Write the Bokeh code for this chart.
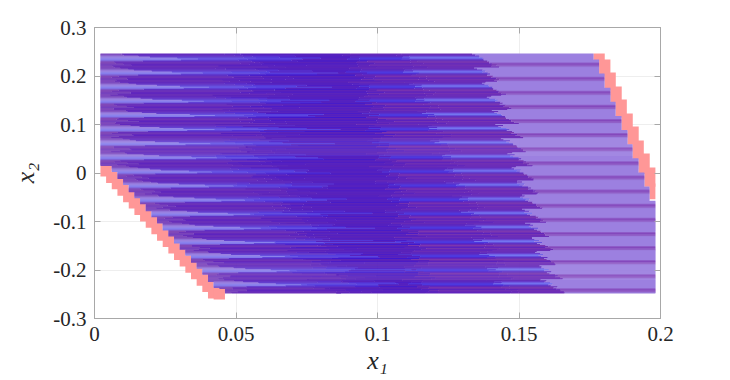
from bokeh.plotting import figure
from bokeh.embed import file_html
from bokeh.resources import INLINE
from bokeh.models import LinearAxis, FixedTicker, Range1d

# ---- values (data units) ----
x_ticks = [0, 0.05, 0.1, 0.15, 0.2]
x_tick_labels = ["0", "0.05", "0.1", "0.15", "0.2"]
y_ticks = [-0.3, -0.2, -0.1, 0, 0.1, 0.2, 0.3]
y_tick_labels = ["-0.3", "-0.2", "-0.1", "0", "0.1", "0.2", "0.3"]

band_top = [0.2465, 0.2174, 0.1883, 0.1592, 0.1301, 0.1010, 0.0719, 0.0428, 0.0137,
            -0.0154, -0.0445, -0.0736, -0.1027, -0.1318, -0.1609, -0.1900, -0.2191]
band_h = 0.0291
grid_left = 0.0021
# right boundary of the blue set, band by band
edge_right = [0.1763, 0.1783, 0.1802, 0.1823, 0.1841, 0.1862, 0.1883, 0.1901, 0.1922, 0.1943,
              0.1961, 0.1982, 0.1982, 0.1982, 0.1982, 0.1982, 0.1982, 0.1982]
# fronts, band by band
front_tip = [0.0375, 0.0375, 0.0399, 0.0399, 0.0428, 0.0420, 0.0399, 0.0438, 0.0420,
             0.0481, 0.0527, 0.0551, 0.0594, 0.0629, 0.0664, 0.0700, 0.0728]
front_a = [0.0933, 0.0947, 0.0961, 0.0975, 0.0989, 0.1004, 0.1018, 0.1032, 0.1046,
           0.1060, 0.1074, 0.1088, 0.1102, 0.1117, 0.1131, 0.1145, 0.1159]
front_b = [0.1117, 0.1138, 0.1155, 0.1173, 0.1194, 0.1212, 0.1233, 0.1254, 0.1276,
           0.1297, 0.1322, 0.1343, 0.1364, 0.1385, 0.1406, 0.1428, 0.1449]
front_c = [0.1382, 0.1392, 0.1410, 0.1431, 0.1449, 0.1466, 0.1484, 0.1502, 0.1516,
           0.1530, 0.1541, 0.1551, 0.1565, 0.1580, 0.1594, 0.1608, 0.1622]
# red cells, lower left
red_l_x = [0.0021, 0.0041, 0.0061, 0.0081, 0.0101, 0.0121, 0.0141, 0.0161, 0.0181, 0.0201, 0.0221,
           0.0241, 0.0261, 0.0281, 0.0301, 0.0321, 0.0341, 0.0361, 0.0381, 0.0401, 0.0421]
red_l_y = [0.0155, 0.0023, -0.0109, -0.0242, -0.0374, -0.0507, -0.0639, -0.0772, -0.0904, -0.1036, -0.1169,
           -0.1301, -0.1434, -0.1566, -0.1699, -0.1831, -0.1963, -0.2096, -0.2228, -0.2361, -0.2382]
# red cells, upper right
red_r_x = [0.1763, 0.1783, 0.1802, 0.1823, 0.1841, 0.1862, 0.1883, 0.1901, 0.1922, 0.1943, 0.1961]
red_r_top = [0.2465, 0.2340, 0.2072, 0.1784, 0.1515, 0.1227, 0.0959, 0.0670, 0.0402, 0.0113, -0.0217]
red_r_bot = [0.2300, 0.1990, 0.1701, 0.1433, 0.1144, 0.0876, 0.0588, 0.0280, -0.0020, -0.0285, -0.0540]
red_w = 0.0040

# fine structure of one band, 14 one-pixel lines from its top
tone_left = ["#7A48BE", "#8455C2", "#9070D6", "#9A80E0", "#9484E6", "#8A82EC", "#8478EA",
             "#7E5CD0", "#8248B8", "#8048B8", "#7A42BA", "#7440BE", "#7C48BC", "#8048BC"]
reach_left = [0.2, 0.25, 0.35, 0.5, 0.75, 1.0, 0.8, 0.4, 0.15, 0.12, 0.25, 0.3, 0.15, 0.12]
tone_midleft = ["#6028BC", "#6630C0", "#6438C8", "#6440D0", "#6650DC", "#6858E6", "#6044D8",
                "#5C30C8", "#6830BC", "#6E34B8", "#6428BC", "#5C24BE", "#682EBA", "#6A30B8"]
tone_blend = ["#5A26BE", "#5A2AC6", "#5A30D0", "#5436D8", "#5640DC", "#5A44E0", "#5232D6",
              "#4A22CE", "#6028BC", "#6228BA", "#5422C4", "#5822C0", "#5C26BC", "#5E28BA"]
mid_extra = [0.004, 0.006, 0.010, 0.014, 0.020, 0.024, 0.018, 0.012, 0.004, 0.002, 0.008, 0.010, 0.005, 0.003]
tone_core = ["#5822BA", "#5220C0", "#5822BC", "#4A1CC8", "#5822BC", "#5220C2", "#5A24BA",
             "#4018CE", "#5C24B8", "#5620BC", "#4C1CC6", "#5C26BA", "#5420C0", "#5A22BA"]
tone_front = ["#6A2CB6", "#5E26BC", "#5C28C0", "#5630CC", "#5038DC", "#4C38E0", "#5028CC",
              "#6626BA", "#7C36AE", "#6A2AB6", "#5A22BE", "#7434B2", "#6426BA", "#6026BC"]
tone_streak = ["#6A2EB8", "#662EBC", "#6A40D0", "#7064E6", "#7474F0", "#6450DC", "#6030C4",
               "#6C34B8", "#7C38B0", "#7030B6", "#6226BC", "#7634B2", "#6C2CB8", "#6C2EB8"]
tone_right = ["#9C80E0", "#9C80E0", "#9C80E0", "#9C80E0", "#9C80E0", "#9C80E0", "#9C80E0",
              "#9C80E0", "#9C80E0", "#8E5CC8", "#8448BC", "#8E5AC4", "#9060C8", "#9A7CDC"]
slant = [-0.0042, -0.0035, -0.0029, -0.0022, -0.0016, -0.0009, -0.0003,
         0.0004, 0.0010, 0.0017, 0.0023, 0.0030, 0.0036, 0.0043]
wiggle = [0.0012, -0.0021, 0.0034, -0.0008, 0.0019, -0.0031, 0.0005, 0.0027, -0.0016, 0.0040,
          -0.0026, 0.0009, -0.0037, 0.0022, -0.0004, 0.0031, -0.0019, 0.0014, -0.0043, 0.0025,
          0.0002, -0.0029, 0.0036, -0.0011, 0.0017, -0.0034, 0.0008, 0.0029, -0.0023]


def left_limit(y):
    x = grid_left
    for cx, cy in zip(red_l_x, red_l_y):
        if y <= cy:
            x = cx + red_w
    return x if y < 0.0155 else grid_left


L, R, T, B, C = [], [], [], [], []


def add(x0, x1, top, bot, col):
    if x1 > x0:
        L.append(x0); R.append(x1); T.append(top); B.append(bot); C.append(col)


n = 0
for i, top in enumerate(band_top):
    step = band_h / 14
    for s in range(14):
        t = top - s * step
        # each line runs under the next one, so no white seam shows between them
        b = t - step * (1.6 if (i < 16 or s < 13) else 1.0)
        right = edge_right[i] if s < 6 else edge_right[i + 1]
        x0 = left_limit(t - step / 2)
        j = wiggle[n % len(wiggle)]
        j2 = wiggle[(n * 3 + 5) % len(wiggle)]
        n += 1
        tip = x0 + max(front_tip[i] - x0, 0.012) * reach_left[s] + j * 0.3
        mid = max(0.052 + x0 * 0.75 + j2 * 2.5, tip)
        mid2 = mid + mid_extra[s] + j * 1.5
        a = front_a[i] + slant[s] + j
        fb = front_b[i] + slant[s] + j * 0.7
        c = front_c[i] + slant[s] * 0.9 + j2 * 0.3
        pts = [x0, tip, mid, mid2, a, fb, c, right]
        cols = [tone_left[s], tone_midleft[s], tone_blend[s], tone_core[s], tone_front[s], tone_streak[s], tone_right[s]]
        for k in range(7):
            x_a = min(max(pts[k], x0), right)
            x_b = min(max(pts[k + 1], x0), right)
            add(x_a, x_b, t, b, cols[k])

p = figure(width=722, height=376, output_backend="svg", toolbar_location=None,
           x_range=Range1d(0, 0.2), y_range=Range1d(-0.3, 0.3),
           frame_width=566, frame_height=291, min_border_left=94, min_border_right=62,
           min_border_top=27, min_border_bottom=58, x_axis_location="below")
p.background_fill_color = "white"
p.outline_line_color = "#A8A8A8"

# red cells underneath
lw = [x + red_w for x in red_l_x]
p.quad(left=red_l_x, right=lw, top=red_l_y, bottom=[y - 0.0227 for y in red_l_y],
       fill_color="#FF9797", line_color=None)
p.quad(left=red_r_x, right=[min(x + red_w, 0.1982) for x in red_r_x], top=red_r_top, bottom=red_r_bot,
       fill_color="#FF9797", line_color=None)
p.quad(left=L, right=R, top=T, bottom=B, fill_color=C, line_color=None)

for ax, ticks, labels in ((p.xaxis[0], x_ticks, x_tick_labels), (p.yaxis[0], y_ticks, y_tick_labels)):
    ax.ticker = FixedTicker(ticks=ticks)
    ax.major_label_overrides = dict(zip(ticks, labels))
    ax.major_label_text_font = "Liberation Serif"
    ax.major_label_text_font_size = "21px"
    ax.major_label_text_color = "#262626"
    ax.axis_line_color = "#A8A8A8"
    ax.major_tick_line_color = "#A8A8A8"
    ax.major_tick_in = 6
    ax.major_tick_out = 0
    ax.minor_tick_line_color = None
    ax.major_label_standoff = 8
    ax.axis_label_text_font = "Liberation Serif"
    ax.axis_label_text_font_style = "italic"
    ax.axis_label_text_font_size = "26px"
    ax.axis_label_text_color = "#262626"

p.xaxis[0].axis_label = "x\u2081"
p.yaxis[0].axis_label = "x\u2082"
p.xaxis[0].axis_label_standoff = 2
p.yaxis[0].axis_label_standoff = 10

for loc, ticks in (("above", x_ticks), ("right", y_ticks)):
    ax2 = LinearAxis(ticker=FixedTicker(ticks=ticks),
                     major_label_overrides={t: "" for t in ticks},
                     axis_line_color="#A8A8A8", major_tick_line_color="#A8A8A8",
                     major_tick_in=6, major_tick_out=0, minor_tick_line_color=None,
                     major_label_standoff=0)
    p.add_layout(ax2, loc)

p.xgrid.ticker = FixedTicker(ticks=x_ticks)
p.ygrid.ticker = FixedTicker(ticks=y_ticks)
p.xgrid.grid_line_color = "#EEEEEE"
p.ygrid.grid_line_color = "#EEEEEE"

open("out.html", "w").write(file_html(p, INLINE))
